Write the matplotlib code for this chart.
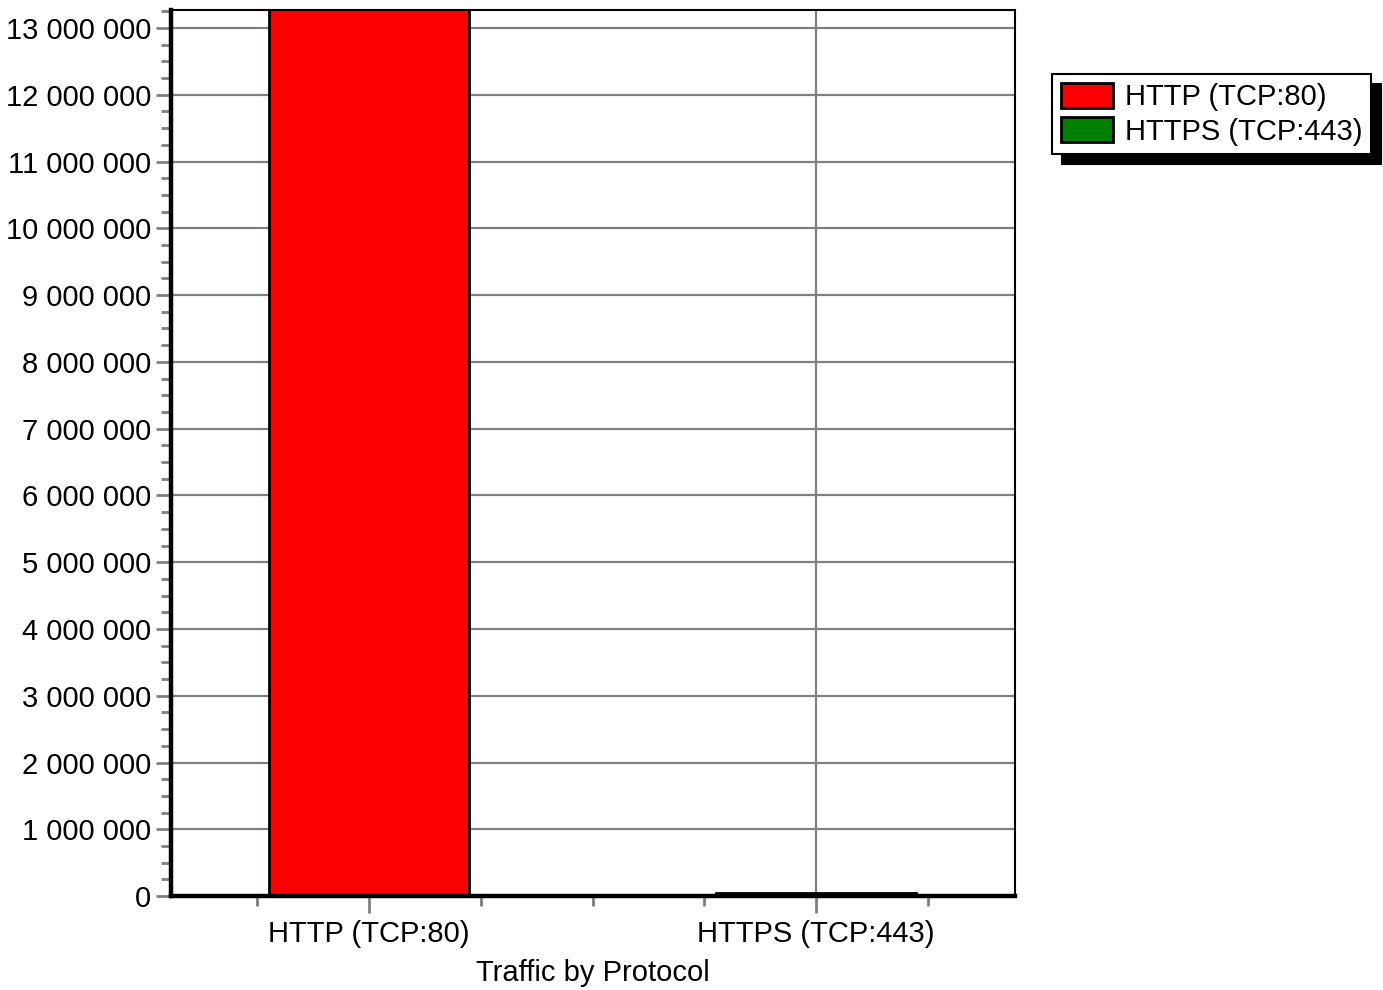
import matplotlib
matplotlib.use("Agg")
import matplotlib.pyplot as plt
from matplotlib.ticker import FuncFormatter, MultipleLocator

# data
protocols = ["HTTP (TCP:80)", "HTTPS (TCP:443)"]
traffic = [13900000, 40000]
bar_colors = ["#ff0000", "#008000"]

plt.rcParams["font.family"] = ["Liberation Sans", "DejaVu Sans"]
FS = 21

fig = plt.figure(figsize=(13.83, 9.9), dpi=100)
ax = fig.add_axes([0.1236, 0.0949, 0.6103, 0.895])

x = list(range(len(protocols)))
bars = ax.bar(x, traffic, width=0.447, color=bar_colors, edgecolor="black",
              linewidth=2, zorder=3, label=protocols)

ax.set_xlim(-0.443, 1.445)
ax.set_ylim(0, 13.27e6)

ax.yaxis.set_major_locator(MultipleLocator(1e6))
ax.yaxis.set_minor_locator(MultipleLocator(2.5e5))
ax.yaxis.set_major_formatter(FuncFormatter(lambda v, p: f"{int(v):,}".replace(",", " ")))
ax.set_xticks(x)
ax.set_xticklabels(protocols)
ax.xaxis.set_minor_locator(MultipleLocator(0.25))

ax.tick_params(axis="both", which="major", labelsize=FS, color="#808080",
               width=2, length=11, pad=3)
ax.tick_params(axis="both", which="minor", color="#808080", width=2, length=7)
ax.tick_params(axis="x", which="major", length=12, pad=5)

ax.grid(True, which="major", color="#808080", linewidth=1.6, zorder=0)
ax.set_axisbelow(True)

for side, lw in [("left", 3.2), ("bottom", 3.2), ("top", 1.5), ("right", 1.5)]:
    ax.spines[side].set_linewidth(lw)
    ax.spines[side].set_color("black")
    ax.spines[side].set_zorder(4)

ax.set_xlabel("Traffic by Protocol", fontsize=FS, labelpad=8)

handles = [plt.Rectangle((0, 0), 1, 1, facecolor=c, edgecolor="black", linewidth=2)
           for c in bar_colors]
leg = fig.legend(handles, protocols, loc="upper left",
                 bbox_to_anchor=(0.7607, 0.9253), fontsize=FS,
                 fancybox=False, framealpha=1, edgecolor="black",
                 handlelength=1.8, handleheight=0.95, handletextpad=0.4,
                 labelspacing=0.2, borderpad=0.3, borderaxespad=0,
                 shadow={"ox": 7, "oy": -7, "color": "black", "alpha": 1})
leg.get_frame().set_linewidth(1.5)

fig.savefig("out.png", dpi=100)
